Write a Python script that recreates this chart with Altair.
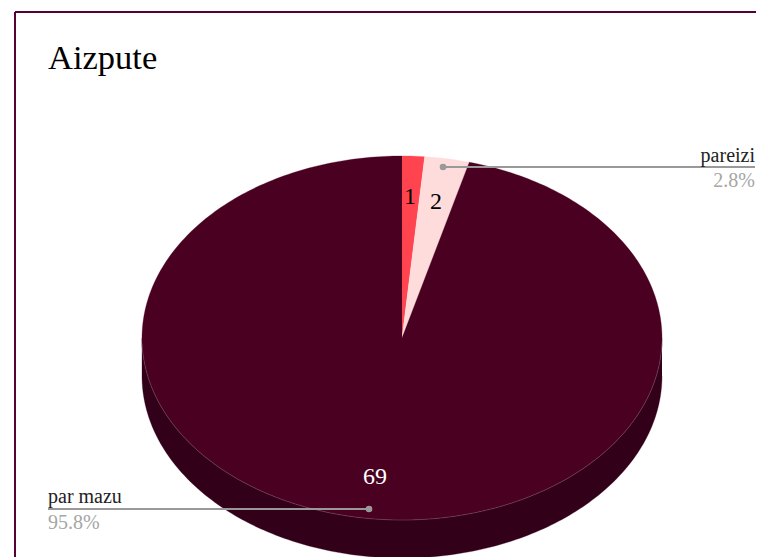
import math
import altair as alt
import pandas as pd

title = "Aizpute"
slice_values = [1, 2, 69]
slice_colors = ["#ff4450", "#ffdcdc", "#4a0020"]
value_text_colors = ["#000000", "#000000", "#ffffff"]
side_color = "#33001a"
rim_color = "#7f5570"
frame_color = "#560035"
leader_color = "#999999"
pct_color = "#a6a6a6"
names = ["pareizi", "par mazu"]
pcts = ["2.8%", "95.8%"]

W, H = 748, 546
CX, CY, RX, RY, DEPTH = 394, 327, 260, 182, 38
FONT = "Liberation Serif"

xs = alt.Scale(domain=[0, W], range=[0, W], nice=False, zero=False)
ys = alt.Scale(domain=[0, H], range=[0, H], nice=False, zero=False)
X = lambda f: alt.X(f, type="quantitative", scale=xs, axis=None)
Y = lambda f: alt.Y(f, type="quantitative", scale=ys, axis=None)


def pt(deg, dy=0):
    a = math.radians(deg)
    return CX + RX * math.sin(a), CY - RY * math.cos(a) + dy


def arc_pts(a0, a1, dy=0):
    n = max(2, int(abs(a1 - a0)) + 1)
    return [pt(a0 + (a1 - a0) * i / (n - 1), dy) for i in range(n)]


def poly(points, color):
    df = pd.DataFrame({"x": [p[0] for p in points], "y": [p[1] for p in points],
                       "o": list(range(len(points)))})
    return alt.Chart(df).mark_line(fill=color, stroke=color, strokeWidth=0.3, clip=True).encode(
        x=X("x"), y=Y("y"), order=alt.Order("o:Q"))


def text_layer(s, x, y, color, size, align="left"):
    df = pd.DataFrame({"x": [x], "y": [y], "t": [s]})
    return alt.Chart(df).mark_text(font=FONT, fontSize=size, color=color, align=align,
                                   baseline="alphabetic").encode(x=X("x"), y=Y("y"), text="t:N")


def seg(x0, y0, x1, y1, color, width):
    df = pd.DataFrame({"x": [x0, x1], "y": [y0, y1], "o": [0, 1]})
    return alt.Chart(df).mark_line(color=color, strokeWidth=width).encode(
        x=X("x"), y=Y("y"), order=alt.Order("o:Q"))


def dot(x, y, color):
    df = pd.DataFrame({"x": [x], "y": [y]})
    return alt.Chart(df).mark_point(filled=True, color=color, size=44, opacity=1).encode(
        x=X("x"), y=Y("y"))


total = sum(slice_values)
layers = []

# side wall
layers.append(poly(arc_pts(90, 270) + arc_pts(270, 90, DEPTH), side_color))

# top slices
angle = 0
for v, c in zip(slice_values, slice_colors):
    a1 = angle + v / total * 360
    layers.append(poly([(CX, CY)] + arc_pts(angle, a1), c))
    angle = a1

# rim highlight along the front edge
rim = arc_pts(92, 268)
rim_df = pd.DataFrame({"x": [p[0] for p in rim], "y": [p[1] for p in rim], "o": list(range(len(rim)))})
layers.append(alt.Chart(rim_df).mark_line(color=rim_color, strokeWidth=0.5).encode(
    x=X("x"), y=Y("y"), order=alt.Order("o:Q")))

# frame
layers.append(seg(7, 1, W, 1, frame_color, 2))
layers.append(seg(7, 1, 7, H, frame_color, 2))

# title
layers.append(text_layer(title, 40, 58, "#000000", 34.5))

# value labels
label_anchor = [(402, 193), (428, 198), (367, 473)]
for v, c, (lx, ly) in zip(slice_values, value_text_colors, label_anchor):
    layers.append(text_layer(str(v), lx, ly, c, 24, "center"))

# leaders and legend labels
layers.append(seg(435, 156, 747, 156, leader_color, 2))
layers.append(dot(435, 156, leader_color))
layers.append(text_layer(names[0], 747, 151, "#222222", 20, "right"))
layers.append(text_layer(pcts[0], 747, 176, pct_color, 20, "right"))

layers.append(seg(40, 498, 361, 498, leader_color, 2))
layers.append(dot(361, 498, leader_color))
layers.append(text_layer(names[1], 40, 492, "#222222", 20))
layers.append(text_layer(pcts[1], 40, 518, pct_color, 20))

chart = alt.layer(*layers).properties(
    width=W, height=H, padding=0, background="#ffffff"
).configure_view(stroke=None)

chart.save("out.html", embed_options={"renderer": "svg", "actions": False})
